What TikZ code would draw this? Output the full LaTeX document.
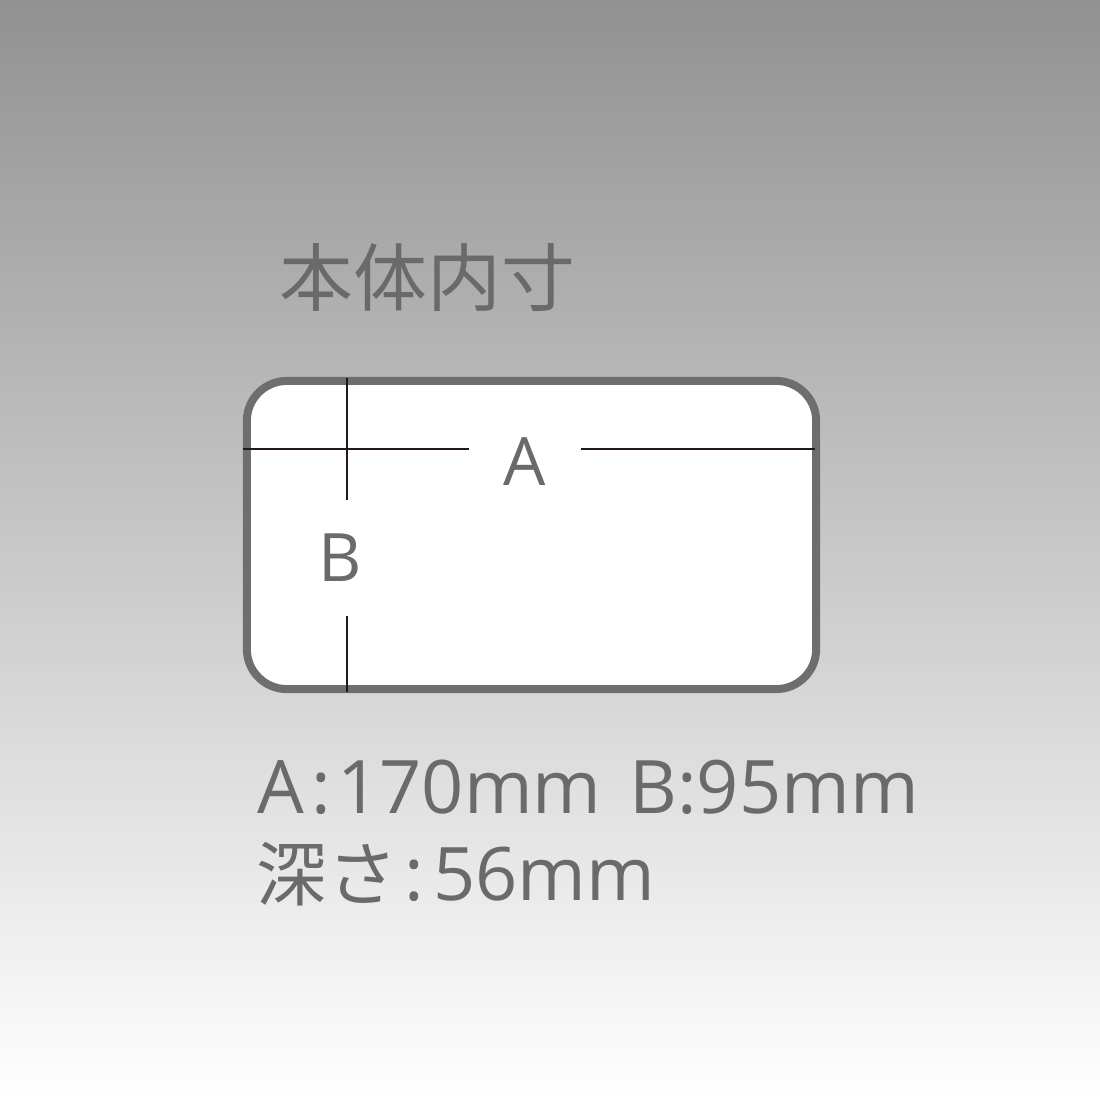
\documentclass[tikz,border=0pt]{standalone}
\usepackage{fontspec}
\setmainfont{Open Sans}
\newfontfamily\jpfont{Noto Sans CJK JP}
\definecolor{boxgray}{HTML}{6E6E6E}
\definecolor{textgray}{HTML}{6A6A6A}
\definecolor{dimcol}{HTML}{231815}

\tikzset{
  boxline/.style={draw=boxgray, line width=0.08cm, fill=white, rounded corners=0.4cm,
    minimum width=5.69cm, minimum height=3.08cm, inner sep=0pt},
  dimline/.style={draw=dimcol, line width=0.02cm},
  dimlabel/.style={text=textgray, font=\fontsize{19}{19}\selectfont, inner sep=0pt},
  infotext/.style={text=textgray, anchor=base west, inner sep=0pt, font=\fontsize{21}{21}\selectfont}
}

\begin{document}
\begin{tikzpicture}[x=0.01cm, y=-0.01cm]
% background
\shade[top color=black!43, bottom color=white] (0,0) rectangle (1100,1100);
\useasboundingbox (0,0) rectangle (1100,1100);

% title
\node[infotext, font=\jpfont\fontsize{21}{21}\selectfont] (title) at (279,305) {本体内寸};

% box
\node[boxline] (box) at (531.5,535) {};

% dimension labels
\node[dimlabel, minimum width=1.1cm] (lblA) at (525,462) {A};
\node[dimlabel, minimum height=1.15cm] (lblB) at (340,558) {B};

\coordinate (hleft) at (243,449);
\coordinate (hright) at (815,449);
\coordinate (vtop) at (347,378);
\coordinate (vbot) at (347,692);

\draw[dimline] (hleft) -- (hleft -| lblA.west);
\draw[dimline] (hright) -- (hright -| lblA.east);
\draw[dimline] (vtop) -- (vtop |- lblB.north);
\draw[dimline] (vbot) -- (vbot |- lblB.south);

% sizes
\node[infotext] (sizeAB) at (257,813) {A\kern0.09em:\kern0.09em170mm\ \kern0.12em B:95mm};
\node[infotext] (depth) at (256,900) {{\jpfont\fontsize{20}{20}\selectfont 深さ}\kern0.1em:\kern0.12em56mm};
\end{tikzpicture}
\end{document}
